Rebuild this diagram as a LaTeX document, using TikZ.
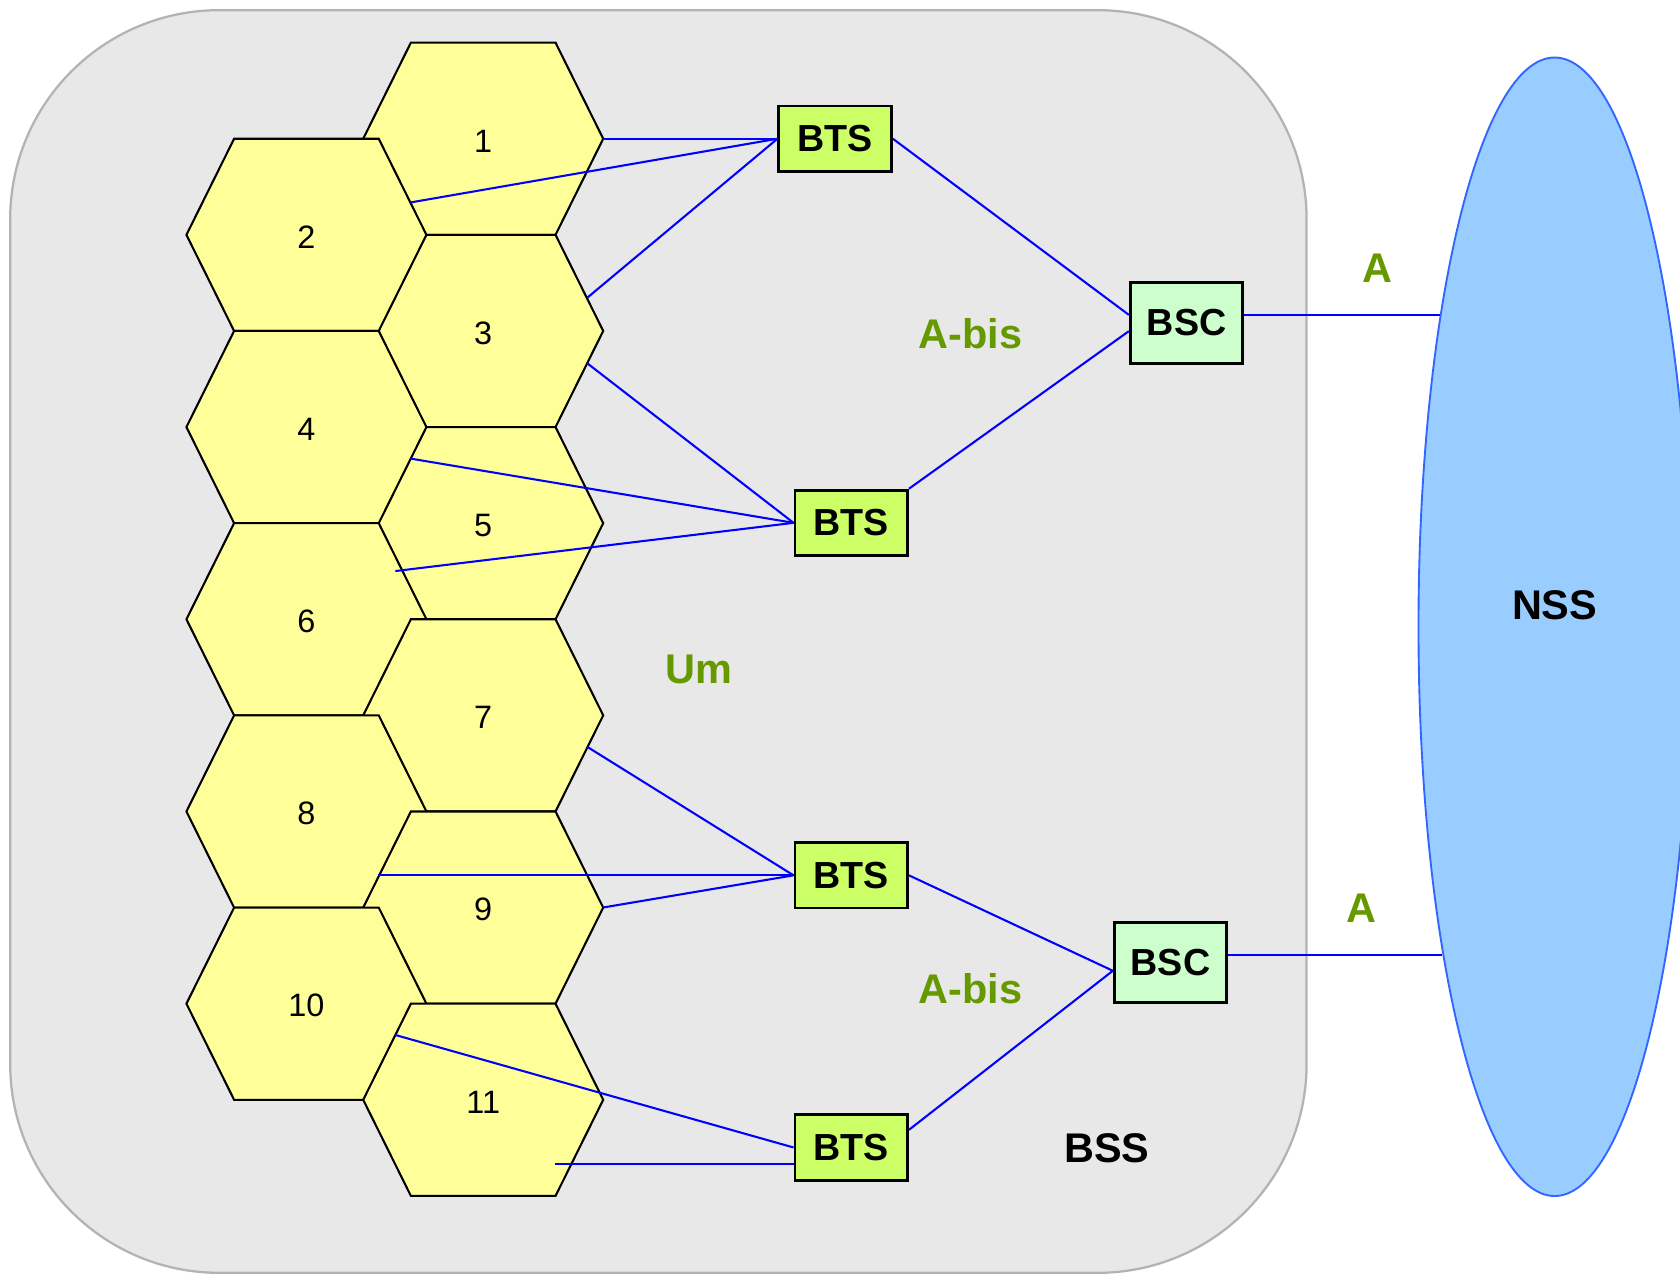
\documentclass[tikz,border=0pt]{standalone}
\usepackage{fontspec}
\setmainfont{Liberation Sans}
\usetikzlibrary{shapes.geometric}
\definecolor{CellY}{HTML}{FFFF99}
\definecolor{BtsG}{HTML}{CCFF66}
\definecolor{BscG}{HTML}{CCFFCC}
\definecolor{NssB}{HTML}{99CCFF}
\definecolor{NssE}{HTML}{3366FF}
\definecolor{IfG}{HTML}{669900}
\definecolor{BssF}{HTML}{E8E8E8}
\definecolor{BssE}{HTML}{B3B3B3}

\begin{document}
\begin{tikzpicture}[x=0.01cm, y=-0.01cm,
    cell/.style={fill=CellY, draw=black, line width=0.55pt},
    cellnum/.style={font=\fontsize{8.6}{8.6}\selectfont, inner sep=0pt},
    bts/.style={draw=black, fill=BtsG, line width=0.75pt,
                minimum width=1.05cm, minimum height=0.61cm, inner sep=0pt,
                font=\fontsize{10}{10}\selectfont\bfseries},
    bsc/.style={bts, fill=BscG, minimum height=0.75cm},
    link/.style={draw=blue, line width=0.55pt},
    iface/.style={font=\fontsize{11}{11}\selectfont\bfseries, text=IfG},
    area/.style={font=\fontsize{11}{11}\selectfont\bfseries}]

        \clip (0,0) rectangle (1568,1189);

        %% ── BSS area and NSS cloud ───────────────────

        \draw[fill=BssF, draw=BssE, line width=0.6pt,
              rounded corners=1.95cm]
          (9.5,9.5) rectangle (1219.5,1188);

        \node[ellipse, fill=NssB, draw=NssE, line width=0.5pt,
              minimum width=2.54cm, minimum height=10.62cm,
              inner sep=0pt]
          (nss) at (1451,585) {};

        %% ── cells (right column under the left one) ──

        \foreach \n/\cx in {1/451,3/451,5/451,2/286,4/286,6/286,
                            7/451,8/286,9/451,10/286,11/451}{
          \pgfmathsetmacro{\cy}{129.5+89.7*(\n-1)}
          \filldraw[cell]
            (\cx,\cy) ++(-67.5,-89.7) -- ++(135,0) -- ++(44.5,89.7)
            -- ++(-44.5,89.7) -- ++(-135,0) -- ++(-44.5,-89.7) -- cycle;
          \node[cellnum] (c\n) at (\cx,\cy+2) {\n};
        }

        %% ── BTS and BSC ──────────────────────────────

        \node[bts] (bts1) at (779.5,129.5) {BTS};
        \node[bts] (bts2) at (794.5,488)   {BTS};
        \node[bts] (bts3) at (794.5,817)   {BTS};
        \node[bts] (bts4) at (794.5,1071)  {BTS};

        \node[bsc] (bsc1) at (1107.5,301.5) {BSC};
        \node[bsc] (bsc2) at (1092.5,898.5) {BSC};

        %% ── radio ends in the cells ──────────────────

        \coordinate (u1)  at (563,129.5);
        \coordinate (u2)  at (383,189);
        \coordinate (u3)  at (548,278);
        \coordinate (u4)  at (548,339);
        \coordinate (u5)  at (383,428);
        \coordinate (u6)  at (369,533);
        \coordinate (u7)  at (548,697);
        \coordinate (u8)  at (353,817);
        \coordinate (u9)  at (563,847);
        \coordinate (u10) at (369,966);
        \coordinate (u11) at (518,1086);

        %% Um: BTS → cells
        \foreach \b/\p in {bts1/u1,bts1/u2,bts1/u3,bts2/u4,bts2/u5,
                           bts2/u6,bts3/u7,bts3/u8,bts3/u9,bts4/u10}{
          \draw[link] (\b.west) -- (\p);
        }
        \draw[link] (bts4.west |- u11) -- (u11);

        %% A-bis: BTS → BSC
        \draw[link] (bts1.east) -- (bsc1.172);
        \draw[link] (bts2.north east) -- (bsc1.188);
        \draw[link] (bts3.east) -- (bsc2.188);
        \draw[link] (bts4.17) -- (bsc2.188);

        %% A: BSC → NSS
        \draw[link] (bsc1.8) -- (bsc1.8 -| nss.110);
        \draw[link] (bsc2.8) -- (bsc2.8 -| nss.251);

        %% ── labels ───────────────────────────────────

        \node[iface] (abis1) at (906,311)  {A-bis};
        \node[iface] (abis2) at (906,923)  {A-bis};
        \node[iface] (um)    at (652,625)  {Um};
        \node[iface] (a1)    at (1286,250) {A};
        \node[iface] (a2)    at (1271,848) {A};

        \node[area] (bss)    at (1033,1072) {BSS};
        \node[area] (nsslbl) at (1451,565)  {NSS};

\end{tikzpicture}
\end{document}
